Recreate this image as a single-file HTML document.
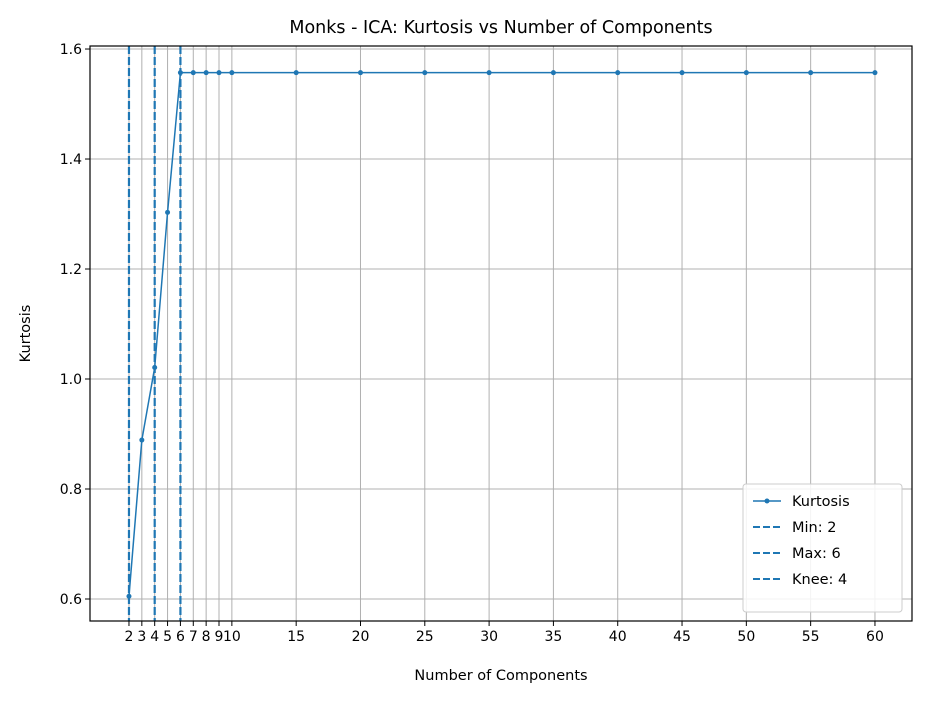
<!DOCTYPE html>
<html><head><meta charset="utf-8"><style>
body{margin:0;background:#fff;font-family:"Liberation Sans","DejaVu Sans",sans-serif}
svg text{font-family:"DejaVu Sans","Liberation Sans",sans-serif}
</style></head><body>
<svg id="chart" width="931" height="700" xmlns="http://www.w3.org/2000/svg"></svg>
<script>
const components=[2,3,4,5,6,7,8,9,10,15,20,25,30,35,40,45,50,55,60];
const kurtosis=[0.605,0.889,1.021,1.303,1.557,1.557,1.557,1.557,1.557,1.557,1.557,1.557,1.557,1.557,1.557,1.557,1.557,1.557,1.557];
const yTicks=[0.6,0.8,1.0,1.2,1.4,1.6];
const yTickLabels=["0.6","0.8","1.0","1.2","1.4","1.6"];
const vlines=[2,6,4];
const legendLabels=["Kurtosis","Min: 2","Max: 6","Knee: 4"];
const L=90,R=912,T=46,B=621;
const xmin=-1.03,xmax=62.88,ymin=0.56,ymax=1.6055;
const X=v=>L+(v-xmin)/(xmax-xmin)*(R-L);
const Y=v=>B-(v-ymin)/(ymax-ymin)*(B-T);
const svg=document.getElementById('chart');
const NS="http://www.w3.org/2000/svg";
function mk(tag,attrs,parent){const e=document.createElementNS(NS,tag);for(const k in attrs)e.setAttribute(k,attrs[k]);(parent||svg).appendChild(e);return e;}
const C="#1f77b4";
components.forEach(c=>{
 const g=mk('line',{x1:X(c),x2:X(c),y1:T,y2:B,stroke:'#b0b0b0','stroke-width':1});
 
 
 const t=mk('line',{x1:X(c),x2:X(c),y1:B,y2:B+5,stroke:'#000','stroke-width':1});
 
 
 const l=mk('text',{x:X(c),y:B+20,'text-anchor':'middle','font-size':14});
 l.textContent=c;
 
 
});
yTicks.forEach((v,i)=>{
 const g=mk('line',{x1:L,x2:R,y1:Y(v),y2:Y(v),stroke:'#b0b0b0','stroke-width':1});
 
 
 const t=mk('line',{x1:L-5,x2:L,y1:Y(v),y2:Y(v),stroke:'#000','stroke-width':1});
 
 
 const l=mk('text',{x:L-8,y:Y(v)+5,'text-anchor':'end','font-size':14});
 l.textContent=yTickLabels[i];
 
 
});
const pl=mk('polyline',{points:components.map((c,i)=>X(c)+','+Y(kurtosis[i])).join(' '),fill:'none',stroke:C,'stroke-width':1.5});


components.forEach((c,i)=>{
 const p=mk('circle',{cx:X(c),cy:Y(kurtosis[i]),r:2.5,fill:C});
 
 
});
vlines.forEach(v=>{
 const l=mk('line',{x1:X(v),x2:X(v),y1:T,y2:B,stroke:C,'stroke-width':2.2,'stroke-dasharray':'8,3'});
 
 
});
const fr=mk('rect',{x:L,y:T,width:R-L,height:B-T,fill:'none',stroke:'#000','stroke-width':1.2});


const ti=mk('text',{x:(L+R)/2,y:33,'text-anchor':'middle','font-size':17.5});
ti.textContent='Monks - ICA: Kurtosis vs Number of Components';


const xt=mk('text',{x:(L+R)/2,y:680,'text-anchor':'middle','font-size':14.5});
xt.textContent='Number of Components';


const yt=mk('text',{x:30,y:(T+B)/2,'text-anchor':'middle','font-size':14.5,transform:`rotate(-90 30 ${(T+B)/2})`});
yt.textContent='Kurtosis';


const lg=mk('g',{});


mk('rect',{x:743,y:484,width:159,height:128,rx:3,fill:'#fff','fill-opacity':0.85,stroke:'#ccc'},lg);
legendLabels.forEach((s,i)=>{
 const y=501+i*26;
 const e=mk('g',{},lg);
 
 
 if(i===0){mk('line',{x1:753,x2:781,y1:y,y2:y,stroke:C,'stroke-width':1.5},e);mk('circle',{cx:767,cy:y,r:2.5,fill:C},e);}
 else mk('line',{x1:753,x2:781,y1:y,y2:y,stroke:C,'stroke-width':2,'stroke-dasharray':'7,3'},e);
 const t=mk('text',{x:792,y:y+5,'font-size':14.5},e);t.textContent=s;
});
</script>
</body></html>
